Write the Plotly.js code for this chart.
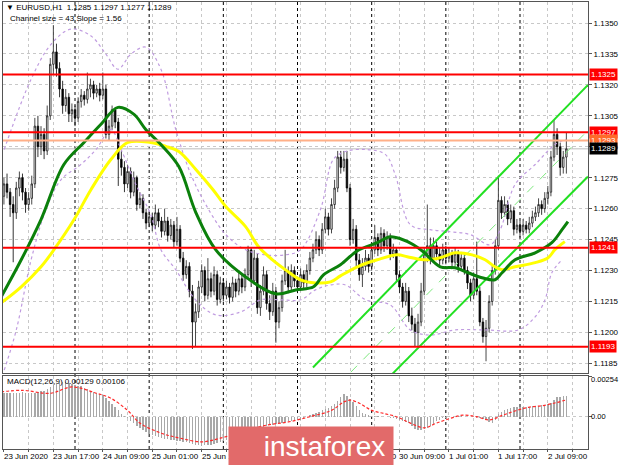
<!DOCTYPE html>
<html><head><meta charset="utf-8">
<script src="https://cdn.plot.ly/plotly-3.0.1.min.js"></script>
<style>body{margin:0;padding:0;background:#fff}#chart{width:620px;height:465px}</style>
</head><body><div id="chart"></div>
<script>
// ---- candle data (EURUSD H1), bar index 0 = 23 Jun 01:00 ----
const opens = [
1.1266,1.1272,1.1268,1.1262,1.1258,1.1270,1.1275,1.1268,1.1262,1.1265,
1.1272,1.1300,1.1290,1.1296,1.1288,1.1305,1.1330,1.1336,1.1328,1.1318,
1.1310,1.1314,1.1306,1.1308,1.1304,1.1312,1.1315,1.1313,1.1318,1.1320,
1.1316,1.1318,1.1315,1.1318,1.1296,1.1300,1.1308,1.1302,1.1284,1.1280,
1.1272,1.1278,1.1268,1.1275,1.1262,1.1265,1.1258,1.1253,1.1256,1.1252,
1.1258,1.1254,1.1249,1.1254,1.1247,1.1252,1.1244,1.1250,1.1236,1.1228,
1.1232,1.1220,1.1205,1.1210,1.1222,1.1230,1.1218,1.1226,1.1220,1.1228,
1.1216,1.1224,1.1218,1.1222,1.1217,1.1224,1.1220,1.1226,1.1222,1.1228,
1.1240,1.1225,1.1236,1.1212,1.1220,1.1228,1.1214,1.1210,1.1220,1.1205,
1.1212,1.1225,1.1230,1.1222,1.1230,1.1225,1.1222,1.1228,1.1224,1.1230,
1.1236,1.1240,1.1245,1.1240,1.1250,1.1256,1.1250,1.1262,1.1270,1.1285,
1.1280,1.1284,1.1270,1.1245,1.1250,1.1235,1.1228,1.1232,1.1236,1.1232,
1.1240,1.1246,1.1240,1.1248,1.1242,1.1246,1.1238,1.1240,1.1228,1.1222,
1.1215,1.1220,1.1208,1.1204,1.1200,1.1205,1.1220,1.1238,1.1242,1.1236,
1.1242,1.1238,1.1235,1.1240,1.1236,1.1238,1.1234,1.1238,1.1232,1.1236,
1.1230,1.1224,1.1218,1.1226,1.1220,1.1205,1.1198,1.1202,1.1215,1.1230,
1.1242,1.1264,1.1258,1.1262,1.1255,1.1259,1.1250,1.1252,1.1249,1.1252,
1.1250,1.1253,1.1256,1.1258,1.1262,1.1260,1.1265,1.1268,1.1285,1.1296,
1.1290,1.1280,1.1285];
const highs = [
1.1275,1.1277,1.1270,1.1266,1.1273,1.1278,1.1277,1.1270,1.1268,1.1276,
1.1304,1.1305,1.1300,1.1299,1.1310,1.1333,1.1349,1.1340,1.1331,1.1322,
1.1318,1.1316,1.1311,1.1310,1.1314,1.1318,1.1317,1.1326,1.1323,1.1322,
1.1320,1.1321,1.1326,1.1320,1.1303,1.1310,1.1309,1.1304,1.1288,1.1283,
1.1281,1.1280,1.1278,1.1276,1.1268,1.1267,1.1260,1.1259,1.1258,1.1262,
1.1260,1.1256,1.1260,1.1256,1.1255,1.1254,1.1256,1.1252,1.1239,1.1235,
1.1234,1.1223,1.1214,1.1225,1.1233,1.1232,1.1236,1.1229,1.1232,1.1230,
1.1227,1.1226,1.1225,1.1224,1.1227,1.1226,1.1229,1.1228,1.1231,1.1242,
1.1241,1.1240,1.1238,1.1223,1.1232,1.1230,1.1218,1.1224,1.1222,1.1215,
1.1228,1.1240,1.1232,1.1233,1.1232,1.1227,1.1231,1.1230,1.1233,1.1239,
1.1243,1.1249,1.1247,1.1253,1.1260,1.1258,1.1265,1.1274,1.1288,1.1288,
1.1288,1.1288,1.1272,1.1255,1.1252,1.1238,1.1236,1.1240,1.1238,1.1243,
1.1252,1.1248,1.1251,1.1250,1.1249,1.1248,1.1243,1.1241,1.1230,1.1224,
1.1224,1.1222,1.1212,1.1207,1.1209,1.1224,1.1241,1.1262,1.1246,1.1246,
1.1244,1.1241,1.1243,1.1242,1.1241,1.1240,1.1241,1.1240,1.1239,1.1238,
1.1232,1.1226,1.1229,1.1244,1.1222,1.1207,1.1206,1.1218,1.1233,1.1245,
1.1276,1.1266,1.1266,1.1264,1.1262,1.1261,1.1255,1.1254,1.1255,1.1254,
1.1256,1.1259,1.1261,1.1265,1.1264,1.1268,1.1271,1.1288,1.1303,1.1299,
1.1292,1.1288,1.1297];
const lows = [
1.1262,1.1265,1.1256,1.1234,1.1255,1.1266,1.1264,1.1258,1.1259,1.1262,
1.1270,1.1285,1.1286,1.1284,1.1286,1.1303,1.1325,1.1324,1.1314,1.1306,
1.1307,1.1302,1.1302,1.1300,1.1302,1.1309,1.1310,1.1311,1.1314,1.1313,
1.1314,1.1312,1.1313,1.1294,1.1293,1.1298,1.1299,1.1271,1.1276,1.1268,
1.1270,1.1265,1.1266,1.1259,1.1260,1.1255,1.1250,1.1251,1.1249,1.1250,
1.1251,1.1246,1.1247,1.1244,1.1245,1.1241,1.1242,1.1234,1.1225,1.1226,
1.1217,1.1192,1.1193,1.1207,1.1219,1.1215,1.1216,1.1217,1.1218,1.1213,
1.1214,1.1215,1.1216,1.1214,1.1215,1.1217,1.1218,1.1219,1.1220,1.1226,
1.1222,1.1223,1.1209,1.1208,1.1218,1.1211,1.1206,1.1208,1.1195,1.1202,
1.1210,1.1223,1.1219,1.1220,1.1222,1.1219,1.1220,1.1221,1.1222,1.1228,
1.1234,1.1238,1.1237,1.1238,1.1248,1.1247,1.1248,1.1260,1.1268,1.1277,
1.1278,1.1268,1.1242,1.1243,1.1232,1.1225,1.1222,1.1230,1.1229,1.1230,
1.1238,1.1237,1.1238,1.1239,1.1240,1.1235,1.1236,1.1225,1.1219,1.1212,
1.1213,1.1205,1.1201,1.1193,1.1193,1.1203,1.1218,1.1234,1.1233,1.1234,
1.1235,1.1232,1.1233,1.1233,1.1234,1.1231,1.1232,1.1229,1.1230,1.1228,
1.1221,1.1215,1.1216,1.1218,1.1203,1.1195,1.1186,1.1200,1.1213,1.1228,
1.1240,1.1255,1.1256,1.1252,1.1253,1.1247,1.1248,1.1246,1.1247,1.1248,
1.1248,1.1251,1.1254,1.1256,1.1257,1.1258,1.1262,1.1266,1.1283,1.1286,
1.1276,1.1277,1.1277];
const closes = [
1.1272,1.1268,1.1262,1.1258,1.1270,1.1275,1.1268,1.1262,1.1265,1.1272,
1.1300,1.1290,1.1296,1.1288,1.1305,1.1330,1.1336,1.1328,1.1318,1.1310,
1.1314,1.1306,1.1308,1.1304,1.1312,1.1315,1.1313,1.1318,1.1320,1.1316,
1.1318,1.1315,1.1318,1.1296,1.1300,1.1308,1.1302,1.1284,1.1280,1.1272,
1.1278,1.1268,1.1275,1.1262,1.1265,1.1258,1.1253,1.1256,1.1252,1.1258,
1.1254,1.1249,1.1254,1.1247,1.1252,1.1244,1.1250,1.1236,1.1228,1.1232,
1.1220,1.1205,1.1210,1.1222,1.1230,1.1218,1.1226,1.1220,1.1228,1.1216,
1.1224,1.1218,1.1222,1.1217,1.1224,1.1220,1.1226,1.1222,1.1228,1.1240,
1.1225,1.1236,1.1212,1.1220,1.1228,1.1214,1.1210,1.1220,1.1205,1.1212,
1.1225,1.1230,1.1222,1.1230,1.1225,1.1222,1.1228,1.1224,1.1230,1.1236,
1.1240,1.1245,1.1240,1.1250,1.1256,1.1250,1.1262,1.1270,1.1285,1.1280,
1.1284,1.1270,1.1245,1.1250,1.1235,1.1228,1.1232,1.1236,1.1232,1.1240,
1.1246,1.1240,1.1248,1.1242,1.1246,1.1238,1.1240,1.1228,1.1222,1.1215,
1.1220,1.1208,1.1204,1.1200,1.1205,1.1220,1.1238,1.1242,1.1236,1.1242,
1.1238,1.1235,1.1240,1.1236,1.1238,1.1234,1.1238,1.1232,1.1236,1.1230,
1.1224,1.1218,1.1226,1.1220,1.1205,1.1198,1.1202,1.1215,1.1230,1.1242,
1.1264,1.1258,1.1262,1.1255,1.1259,1.1250,1.1252,1.1249,1.1252,1.1250,
1.1253,1.1256,1.1258,1.1262,1.1260,1.1265,1.1268,1.1285,1.1296,1.1290,
1.1280,1.1285,1.1289];

// ---- moving averages ----
const maGreenX = [-0.9,5.6,12.0,19.4,25.9,31.4,36.9,42.1,45.9,50.8,56.6,62.1,68.5,78.2,87.9,94.4,100.2,103.4,108.9,114.4,120.8,125.0,128.3,132.5,135.7,141.2,146.0,150.2,154.7,158.9,161.2,165.4,171.9,177.3,180.6,182.5];
const maGreenY = [1.12172,1.12352,1.12547,1.12814,1.12921,1.13009,1.13091,1.13057,1.12984,1.12911,1.12804,1.12581,1.12401,1.12269,1.12187,1.12206,1.12221,1.12279,1.12328,1.12396,1.12435,1.12464,1.12454,1.12425,1.12391,1.12318,1.12313,1.12289,1.12265,1.12255,1.12289,1.12352,1.12386,1.12435,1.12498,1.12537];
const maYellowX = [-0.9,5.6,12.0,16.2,22.7,28.2,34.6,40.1,47.5,52.4,56.6,62.1,67.6,71.8,78.2,82.4,86.9,91.1,96.0,100.8,105.7,108.9,114.4,120.8,127.3,130.5,135.7,141.2,146.0,151.5,155.7,158.9,161.2,165.4,171.9,176.1,178.3,181.5];
const maYellowY = [1.12143,1.12221,1.12318,1.12401,1.12547,1.12693,1.12838,1.12921,1.12921,1.12902,1.12877,1.12790,1.12693,1.12610,1.12513,1.12415,1.12352,1.12304,1.12255,1.12240,1.12245,1.12274,1.12318,1.12352,1.12376,1.12367,1.12352,1.12362,1.12386,1.12376,1.12352,1.12318,1.12304,1.12318,1.12338,1.12362,1.12401,1.12440];

// ---- envelope bands (purple dotted) ----
const bandUpX = [0.1,8.8,15.3,21.7,28.2,33.0,36.9,41.1,45.9,50.8,55.6,60.5,65.3,71.8,78.2,84.7,91.1,96.0,102.4,106.6,110.5,117.0,123.4,126.6,131.5,137.9,144.4,150.9,157.3,160.6,165.4,171.9,178.3,181.9];
const bandUpY = [1.12887,1.13228,1.13398,1.13471,1.13437,1.13349,1.13276,1.13349,1.13383,1.13276,1.12984,1.12766,1.12620,1.12474,1.12401,1.12376,1.12376,1.12401,1.12595,1.12839,1.12877,1.12887,1.12863,1.12766,1.12522,1.12498,1.12488,1.12474,1.12425,1.12498,1.12717,1.12814,1.12911,1.12936];
const bandLoX = [0.1,4.0,8.8,13.6,18.5,24.9,29.8,34.6,37.9,42.7,47.5,50.8,55.6,62.0,68.5,76.6,83.1,89.5,96.0,100.8,105.7,110.5,117.0,125.0,131.5,137.9,146.0,155.7,166.4,171.9,175.1,177.3,180.6];
const bandLoY = [1.11817,1.12012,1.12352,1.12595,1.12741,1.12814,1.12887,1.12984,1.12887,1.12717,1.12571,1.12401,1.12304,1.12158,1.12085,1.12099,1.12158,1.12158,1.12158,1.12206,1.12230,1.12230,1.12158,1.12133,1.12012,1.11987,1.12012,1.12012,1.12012,1.12075,1.12158,1.12289,1.12352];

// ---- regression channel ----
const channelX = [100, 189];
const channelUpper = [1.1183, 1.1320];
const channelMiddle = [1.1162, 1.1298];
const channelLower = [1.1141, 1.12756];

// ---- MACD(12,26,9) ----
const macdHist = [
0.00150,0.00152,0.00150,0.00146,0.00148,0.00152,0.00154,0.00150,0.00146,0.00146,
0.00150,0.00156,0.00160,0.00164,0.00172,0.00186,0.00200,0.00208,
0.00214,0.00218,0.00218,0.00214,0.00208,0.00202,
0.00196,0.00190,0.00182,0.00172,0.00164,0.00156,0.00148,0.00140,0.00134,
0.00118,0.00098,0.00078,0.00060,0.00040,0.00018,0.00002,-0.00010,
-0.00024,-0.00040,-0.00056,-0.00070,-0.00084,-0.00096,-0.00110,
-0.00118,-0.00124,-0.00130,-0.00134,-0.00138,-0.00140,-0.00144,-0.00148,-0.00150,
-0.00154,-0.00158,-0.00160,-0.00164,-0.00170,-0.00176,-0.00180,-0.00182,-0.00180,-0.00178,
-0.00176,-0.00172,-0.00166,-0.00160,-0.00152,-0.00146,-0.00140,-0.00132,-0.00124,-0.00116,-0.00108,-0.00100,-0.00092,-0.00086,
-0.00080,-0.00074,-0.00068,-0.00062,-0.00058,-0.00054,-0.00050,-0.00046,-0.00042,-0.00038,-0.00034,-0.00030,-0.00028,-0.00026,-0.00022,-0.00018,
-0.00010,-0.00004,0.00010,0.00020,0.00026,0.00032,0.00040,0.00048,0.00056,0.00066,0.00080,0.00100,0.00124,0.00145,
0.00130,0.00110,0.00093,0.00070,0.00040,0.00026,0.00016,0.00010,
0.00006,0.00004,0.00002,0.00000,-0.00002,-0.00004,-0.00006,-0.00010,
-0.00012,-0.00018,-0.00026,-0.00034,-0.00042,-0.00060,-0.00080,-0.00086,-0.00084,-0.00078,-0.00070,
-0.00056,-0.00044,-0.00030,-0.00020,-0.00010,-0.00006,-0.00004,-0.00002,0.00000,
0.00002,0.00002,0.00000,0.00000,-0.00002,-0.00004,-0.00006,-0.00010,-0.00016,-0.00022,
-0.00032,-0.00040,-0.00020,0.00020,0.00032,0.00042,0.00050,0.00054,0.00058,0.00060,
0.00060,0.00062,0.00062,0.00064,0.00066,0.00068,0.00070,0.00072,0.00076,0.00080,0.00086,0.00108,0.00124,0.00126,0.00128,0.00129];
const signalX = [-1,6,15,22,30,34.6,40,44,51,57,64,70,77,85,92,99,106,110,112,115,119,123,127,131.5,136,140,144.5,148.5,153,157,161.5,166,170,174.5,179,182];
const signalY = [0.00156,0.00166,0.00147,0.00187,0.00147,0.00116,0.00040,-0.00040,-0.00104,-0.00135,-0.00158,-0.00135,-0.00095,-0.00053,-0.00033,0.0,0.00040,0.00093,0.00104,0.00085,0.00040,0.00020,0.0,-0.00040,-0.00070,-0.00040,-0.00010,0.00010,0.0,-0.00020,0.00010,0.00040,0.00060,0.00070,0.00090,0.00106];

// ---- levels, separators, ticks ----
const redLevels = [1.1325, 1.1297, 1.1241, 1.1193];
const orangeLevel = 1.1293;
const bidLevel = 1.1289;
const daySeparators = [23, 47, 71, 95, 119, 143, 167];
const gridBars = [0,8,16,24,32,40,48,56,64,72,80,88,96,104,112,120,128,136,144,152,160,168,176,184];
const labelBars = [0,16,32,48,64,80,96,112,128,144,160,176];
const labelTexts = ["23 Jun 2020","23 Jun 17:00","24 Jun 09:00","25 Jun 01:00","25 Jun 17:00","26 Jun 09:00","29 Jun 01:00","29 Jun 17:00","30 Jun 09:00","1 Jul 01:00","1 Jul 17:00","2 Jul 09:00"];
const priceTicks = [1.1185,1.1200,1.1215,1.1230,1.1245,1.1260,1.1275,1.1290,1.1305,1.1320,1.1335,1.1350];
const macdTicks = [-0.00204, 0, 0.00254];
const macdTickText = ["-0.00204", "0.00", "0.00254"];
const macdLabelShift = [5, 0, -3];

const barIndex = closes.map((_, k) => k);
const FONT = "Liberation Sans, Arial, sans-serif";
const gridColor = "#c8c8c8";

const traces = [
  {type:'scatter', mode:'lines', x:bandUpX, y:bandUpY, line:{color:'#c09ce0', width:1.2, dash:'dot', shape:'spline'}, xaxis:'x', yaxis:'y', hoverinfo:'skip'},
  {type:'scatter', mode:'lines', x:bandLoX, y:bandLoY, line:{color:'#c09ce0', width:1.2, dash:'dot', shape:'spline'}, xaxis:'x', yaxis:'y', hoverinfo:'skip'},
  {type:'scatter', mode:'lines', x:channelX, y:channelMiddle, line:{color:'#7ee87e', width:1, dash:'dash'}, xaxis:'x', yaxis:'y'},
  {type:'scatter', mode:'lines', x:channelX, y:channelUpper, line:{color:'#22e022', width:2}, xaxis:'x', yaxis:'y'},
  {type:'scatter', mode:'lines', x:channelX, y:channelLower, line:{color:'#22e022', width:2}, xaxis:'x', yaxis:'y'},
  {type:'scatter', mode:'lines', x:maYellowX, y:maYellowY, line:{color:'#ffff00', width:3, shape:'spline'}, xaxis:'x', yaxis:'y'},
  {type:'scatter', mode:'lines', x:maGreenX, y:maGreenY, line:{color:'#0b800b', width:3, shape:'spline'}, xaxis:'x', yaxis:'y'},
  {type:'candlestick', x:barIndex, open:opens, high:highs, low:lows, close:closes, xaxis:'x', yaxis:'y',
   increasing:{line:{color:'#1a1a1a', width:0.8}, fillcolor:'#ffffff'},
   decreasing:{line:{color:'#000000', width:0.8}, fillcolor:'#000000'}, whiskerwidth:0},
  {type:'bar', x:barIndex, y:macdHist, xaxis:'x2', yaxis:'y2', width:0.45, marker:{color:'#a8a8a8', line:{width:0}}},
  {type:'scatter', mode:'lines', x:signalX, y:signalY, xaxis:'x2', yaxis:'y2', line:{color:'#ff2a2a', width:1.2, dash:'3px,2px', shape:'spline'}}
];

const shapes = [];
daySeparators.forEach(d => shapes.push({type:'line', xref:'x', yref:'paper', x0:d, x1:d, y0:0, y1:1, layer:'between', line:{color:'#000', width:1, dash:'dot'}}));
shapes.push({type:'line', xref:'paper', yref:'y', x0:0, x1:1, y0:bidLevel, y1:bidLevel, layer:'between', line:{color:'#bdbdbd', width:1}});
shapes.push({type:'line', xref:'paper', yref:'y', x0:0, x1:1, y0:orangeLevel, y1:orangeLevel, layer:'above', line:{color:'#ffb088', width:2}});
redLevels.forEach(v => shapes.push({type:'line', xref:'paper', yref:'y', x0:0, x1:1, y0:v, y1:v, layer:'above', line:{color:'#ff0000', width:2}}));

const annotations = [];
function priceBox(v, bg, fg){
  annotations.push({xref:'paper', yref:'y', x:1, y:v, xanchor:'left', yanchor:'middle', xshift:1, text:v.toFixed(4), showarrow:false,
    bgcolor:bg, borderpad:1, font:{family:FONT, size:8, color:fg}});
}
redLevels.forEach(v => priceBox(v, '#ff0000', '#ffffff'));
priceBox(orangeLevel, '#ff6a2a', '#ffffff');
priceBox(bidLevel, '#000000', '#ffffff');
annotations.push({xref:'paper', yref:'paper', x:0.002, y:0.987, xanchor:'left', yanchor:'middle', showarrow:false,
  text:'▼ EURUSD,H1  1.1285 1.1297 1.1277 1.1289', font:{family:FONT, size:8, color:'#000'}});
annotations.push({xref:'paper', yref:'paper', x:0.008, y:0.962, xanchor:'left', yanchor:'middle', showarrow:false,
  text:'Channel size = 43 Slope = 1.56', font:{family:FONT, size:8, color:'#000'}});
annotations.push({xref:'paper', yref:'paper', x:0.004, y:0.150, xanchor:'left', yanchor:'middle', showarrow:false,
  text:'MACD(12,26,9) 0.00129 0.00106', font:{family:FONT, size:8, color:'#000'}});
// MACD scale labels, inset like the terminal draws them
macdTicks.forEach((v, k) => annotations.push({xref:'paper', yref:'y2', x:1, y:v, xanchor:'left', yanchor:'middle', xshift:2, yshift:macdLabelShift[k],
  showarrow:false, text:macdTickText[k], borderpad:0, font:{family:FONT, size:7.5, color:'#000'}}));
// date labels, left-aligned at their bar
labelBars.forEach((b, k) => annotations.push({xref:'x2', yref:'paper', x:b, y:0, xanchor:'left', yanchor:'top', yshift:-2, xshift:-1,
  showarrow:false, text:labelTexts[k], font:{family:FONT, size:8, color:'#000'}, borderpad:0}));
// watermark box (drawn last, covers labels beneath it)
annotations.push({xref:'paper', yref:'paper', x:0.5265, y:0.0067, xanchor:'center', yanchor:'middle', showarrow:false,
  width:164, height:38, align:'right', valign:'middle', borderpad:0, bgcolor:'#e26a6a',
  text:'instaforex&nbsp;', font:{family:FONT, size:28, color:'#ffffff'}});

const xBase = {range:[-0.3, 189], showgrid:true, gridcolor:gridColor, griddash:'3px,3px', gridwidth:1, zeroline:false,
  showline:true, mirror:true, linecolor:'#555', linewidth:1, tickvals:gridBars, fixedrange:true, showticklabels:false};
const layout = {
  width:620, height:465, margin:{l:3, r:32, t:2, b:16}, paper_bgcolor:'#fff', plot_bgcolor:'#fff',
  showlegend:false, bargap:0,
  font:{family:FONT, size:8, color:'#000'},
  xaxis:Object.assign({}, xBase, {anchor:'y', ticks:'', rangeslider:{visible:false}}),
  xaxis2:Object.assign({}, xBase, {anchor:'y2', ticks:'outside', ticklen:2, tickcolor:'#555'}),
  yaxis:{domain:[0.170, 1], range:[1.11803, 1.13602], side:'right', anchor:'x', tickvals:priceTicks, ticktext:priceTicks.map(v=>v.toFixed(4)),
    showgrid:true, gridcolor:gridColor, griddash:'3px,3px', zeroline:false, showline:true, mirror:true, linecolor:'#555',
    ticks:'outside', ticklen:3, tickcolor:'#555', tickfont:{family:FONT, size:8, color:'#000'}},
  yaxis2:{domain:[0, 0.163], range:[-0.00203, 0.00255], side:'right', anchor:'x2', tickvals:macdTicks, showticklabels:false,
    showgrid:true, gridcolor:gridColor, griddash:'3px,3px', zeroline:false, showline:true, mirror:true, linecolor:'#555',
    ticks:'outside', ticklen:3, tickcolor:'#555'},
  shapes:shapes, annotations:annotations
};
Plotly.newPlot('chart', traces, layout, {displayModeBar:false, staticPlot:true});
</script></body></html>
